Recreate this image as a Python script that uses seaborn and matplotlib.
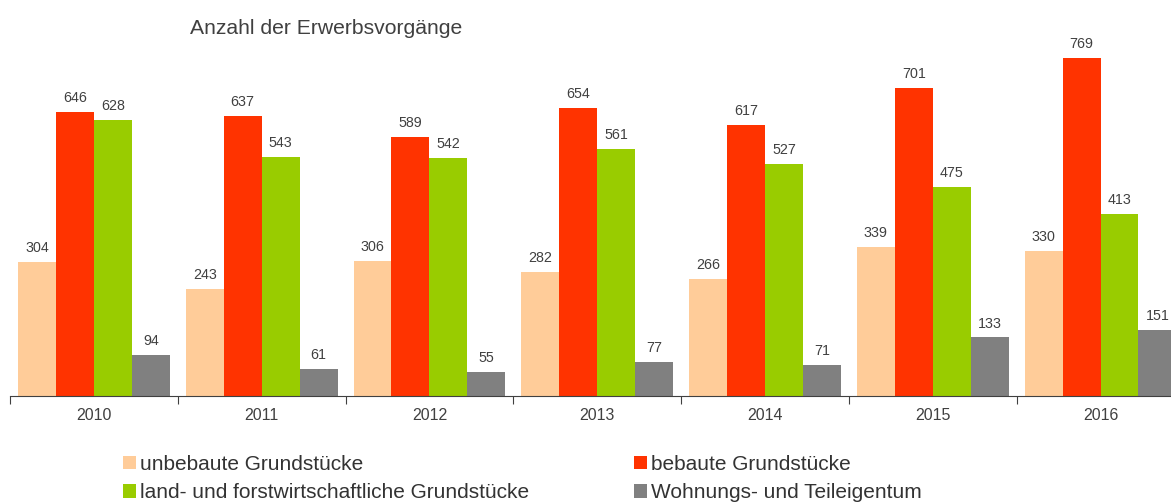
import pandas as pd
import numpy as np
import matplotlib.pyplot as plt
import seaborn as sns
from matplotlib.patches import Patch

# --- data ---
years = ["2010", "2011", "2012", "2013", "2014", "2015", "2016"]
series = ["unbebaute Grundstücke", "bebaute Grundstücke",
          "land- und forstwirtschaftliche Grundstücke", "Wohnungs- und Teileigentum"]
unbebaut = [304, 243, 306, 282, 266, 339, 330]
bebaut = [646, 637, 589, 654, 617, 701, 769]
landforst = [628, 543, 542, 561, 527, 475, 413]
wohnung = [94, 61, 55, 77, 71, 133, 151]
colors = ["#FFCC99", "#FF3300", "#99CC00", "#808080"]

rows = []
for name, vals in zip(series, [unbebaut, bebaut, landforst, wohnung]):
    for y, v in zip(years, vals):
        rows.append({"Jahr": y, "Art": name, "Anzahl": v})
df = pd.DataFrame(rows)

sns.set_style("white")
plt.rcParams['font.family'] = ['Liberation Sans', 'DejaVu Sans']

fig = plt.figure(figsize=(11.71, 5.04), dpi=100)
ax = fig.add_axes([10 / 1171, 1 - 396 / 504, 1 - 10 / 1171, 396 / 504])

sns.barplot(data=df, x="Jahr", y="Anzahl", hue="Art", hue_order=series,
            palette=colors, width=0.905, saturation=1, ax=ax, legend=False,
            linewidth=0)

for cont in ax.containers:
    ax.bar_label(cont, padding=5, fontsize=10.3, color="#404040")

ax.set_xlabel("")
ax.set_ylabel("")
ax.set_yticks([])
for s in ["top", "right", "left"]:
    ax.spines[s].set_visible(False)
ax.spines["bottom"].set_color("#404040")
ax.spines["bottom"].set_linewidth(0.8)

ax.set_xticks(np.arange(len(years) + 1) - 0.5, minor=True)
ax.tick_params(axis="x", which="minor", direction="out", length=6,
               width=0.8, color="#404040", bottom=True)
ax.tick_params(axis="x", which="major", length=0, pad=9, labelsize=11.5,
               labelcolor="#404040")
# limits after the ticks, otherwise set_xticks widens the view
ax.set_xlim(-0.5, 6.42)
ax.set_ylim(0, 900)

fig.text(190 / 1171, 1 - 28 / 504, "Anzahl der Erwerbsvorgänge",
         fontsize=15.2, color="#404040", va="center", ha="left")

handles = [Patch(facecolor=c, edgecolor="none") for c in colors]
leg_kw = dict(frameon=False, fontsize=15, handlelength=0.6, handleheight=0.6,
              handletextpad=0.22, labelspacing=0.45, labelcolor="#333333",
              loc="upper left", borderaxespad=0, borderpad=0)
l1 = fig.legend([handles[0], handles[2]], [series[0], series[2]],
                bbox_to_anchor=(123 / 1171, 1 - 455 / 504), **leg_kw)
l2 = fig.legend([handles[1], handles[3]], [series[1], series[3]],
                bbox_to_anchor=(634 / 1171, 1 - 455 / 504), **leg_kw)

fig.savefig("out.png", dpi=100)
